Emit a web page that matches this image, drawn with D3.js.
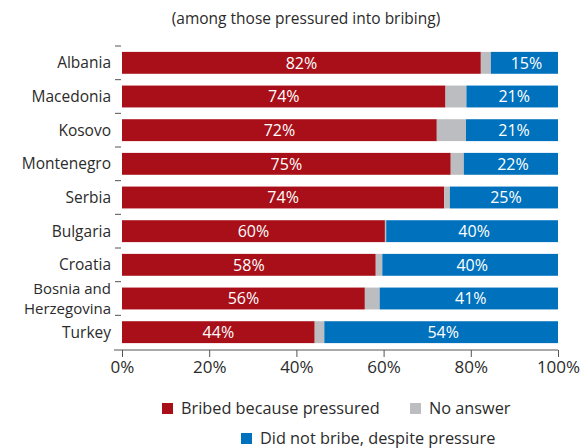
<!DOCTYPE html>
<html>
<head>
<meta charset="utf-8">
<script src="https://cdn.jsdelivr.net/npm/d3@7"></script>
<style>
  body { margin: 0; background: #fff; }
  svg { display: block; font-family: "Open Sans", "Noto Sans", sans-serif; }
</style>
</head>
<body>
<svg id="chart" width="581" height="448"></svg>
<script>
const title = "(among those pressured into bribing)";
const countries = ["Albania", "Macedonia", "Kosovo", "Montenegro", "Serbia", "Bulgaria", "Croatia", "Bosnia and\nHerzegovina", "Turkey"];
const bribed   = [82.3, 74.2, 72.2, 75.4, 73.9, 60.3, 58.2, 55.7, 44.2];
const noAnswer = [2.3, 4.8, 6.7, 3.0, 1.3, 0.3, 1.5, 3.4, 2.2];
const notBribe = [15.4, 21.0, 21.1, 21.6, 24.8, 39.4, 40.3, 40.9, 53.6];
const bribedLabels = ["82%", "74%", "72%", "75%", "74%", "60%", "58%", "56%", "44%"];
const notBribeLabels = ["15%", "21%", "21%", "22%", "25%", "40%", "40%", "41%", "54%"];
const xTicks = [0, 20, 40, 60, 80, 100];
const seriesNames = ["Bribed because pressured", "No answer", "Did not bribe, despite pressure"];
const colors = ["#a80f18", "#bcbdc0", "#0071bc"];

const textColor = "#2b2b2b";
const svg = d3.select("#chart");

const x = d3.scaleLinear().domain([0, 100]).range([122, 558]);
const y = d3.scaleBand().domain(countries).range([46, 349]).paddingInner(0.35).paddingOuter(0.175);

svg.append("text")
  .attr("x", 306).attr("y", 24)
  .attr("text-anchor", "middle")
  .attr("font-size", 15.5)
  .attr("fill", textColor)
  .text(title);

// left category ticks at band boundaries
const step = y.step();
const boundaries = countries.map(c => y(c) - (step - y.bandwidth()) / 2);
svg.selectAll("line.ytick").data(boundaries).join("line")
  .attr("class", "ytick")
  .attr("x1", 115).attr("x2", 121)
  .attr("y1", d => d).attr("y2", d => d)
  .attr("stroke", "#555").attr("stroke-width", 1);

// stacks
const rows = countries.map((c, i) => ({c, vals: [bribed[i], noAnswer[i], notBribe[i]], i}));
rows.forEach(r => {
  let acc = 0;
  r.vals.forEach((v, k) => {
    svg.append("rect")
      .attr("x", x(acc)).attr("y", y(r.c))
      .attr("width", x(acc + v) - x(acc))
      .attr("height", y.bandwidth())
      .attr("fill", colors[k]);
    acc += v;
  });
  const cy = y(r.c) + y.bandwidth() / 2;
  svg.append("text")
    .attr("x", (x(0) + x(r.vals[0])) / 2).attr("y", cy)
    .attr("dy", "0.36em").attr("text-anchor", "middle")
    .attr("font-size", 16).attr("fill", "#fff")
    .text(bribedLabels[r.i]);
  const bStart = r.vals[0] + r.vals[1];
  svg.append("text")
    .attr("x", (x(bStart) + x(100)) / 2 + 2).attr("y", cy)
    .attr("dy", "0.36em").attr("text-anchor", "middle")
    .attr("font-size", 16).attr("fill", "#fff")
    .text(notBribeLabels[r.i]);
  // category label (one text element per line)
  const lines = r.c.split("\n");
  const multi = lines.length > 1;
  lines.forEach((ln, j) => {
    svg.append("text")
      .attr("x", 111).attr("text-anchor", "end")
      .attr("font-size", multi ? 15 : 15.5).attr("fill", textColor)
      .attr("y", cy + (j - (lines.length - 1) / 2) * 19.5)
      .attr("dy", "0.36em").text(ln);
  });
});

// x axis
const xAxis = d3.axisBottom(x).tickValues(xTicks).tickFormat(d => d + "%").tickSize(7).tickSizeOuter(0);
const gx = svg.append("g").attr("transform", "translate(0,350)").call(xAxis);
gx.select(".domain").remove();
gx.append("line").attr("x1", 114).attr("x2", 558).attr("y1", 0).attr("y2", 0).attr("stroke", "#555");
gx.selectAll(".tick line").attr("stroke", "#555");
gx.selectAll(".tick text").attr("font-size", 17).attr("fill", textColor).attr("y", 11).attr("font-family", "Open Sans, Noto Sans, sans-serif");

// legend
const legendItems = [
  {name: seriesNames[0], color: colors[0], x: 162, y: 403},
  {name: seriesNames[1], color: colors[1], x: 410, y: 403},
  {name: seriesNames[2], color: colors[2], x: 241, y: 433}
];
legendItems.forEach(d => {
  svg.append("rect").attr("x", d.x).attr("y", d.y).attr("width", 11).attr("height", 11).attr("fill", d.color);
  svg.append("text").attr("x", d.x + 19).attr("y", d.y + 5.5).attr("dy", "0.36em")
    .attr("font-size", 16.3).attr("fill", textColor).text(d.name);
});
</script>
</body>
</html>
